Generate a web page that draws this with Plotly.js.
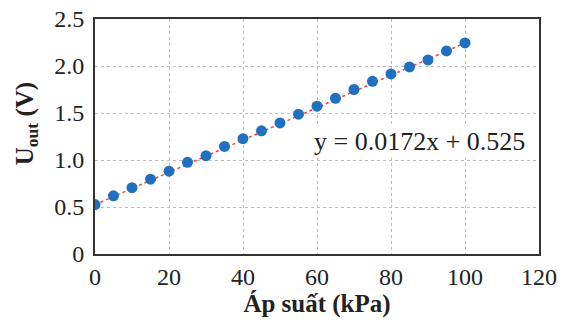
<!DOCTYPE html>
<html>
<head>
<meta charset="utf-8">
<script src="https://cdn.plot.ly/plotly-3.0.1.min.js"></script>
<style>html,body{margin:0;padding:0;background:#fff}#chart{width:569px;height:323px}</style>
</head>
<body>
<div id="chart"></div>
<script>
const pressure = [0,5,10,15,20,25,30,35,40,45,50,55,60,65,70,75,80,85,90,95,100];
const voltage = [0.526,0.619,0.705,0.796,0.881,0.975,1.046,1.144,1.227,1.31,1.394,1.487,1.573,1.657,1.75,1.837,1.916,1.99,2.065,2.16,2.245];
const fitX = [0,100];
const slope = 0.0172, intercept = 0.525;
const fitY = fitX.map(x => slope*x + intercept);
const xTicks = [0,20,40,60,80,100,120];
const yTicks = [0,0.5,1.0,1.5,2.0,2.5];
const yTickText = ['0','0.5','1.0','1.5','2.0','2.5'];
const eqText = 'y = 0.0172x + 0.525';
const xTitle = '<b>Áp suất (kPa)</b>';
const yTitle = '<b>U<sub>out</sub> (V)</b>';

const font = '"Liberation Serif", "Times New Roman", serif';
Plotly.newPlot('chart', [
  {x: fitX, y: fitY, mode: 'lines', line: {color: '#ff3b3b', width: 1.5, dash: 'dot'}, hoverinfo: 'skip'},
  {x: pressure, y: voltage, mode: 'markers', marker: {color: '#1f70c1', size: 11}}
], {
  width: 569, height: 323,
  margin: {l: 95, r: 30, t: 19, b: 69},
  showlegend: false,
  paper_bgcolor: '#fff', plot_bgcolor: '#fff',
  font: {family: font, size: 24, color: '#222'},
  xaxis: {range: [0,120], tickvals: xTicks, showline: true, mirror: true, linecolor: '#333', linewidth: 2,
    showgrid: true, gridcolor: '#bdbdbd', griddash: 'dot', gridwidth: 1, zeroline: false, ticks: '',
    tickfont: {size: 24, family: font}, title: {text: xTitle, font: {size: 25, family: font}, standoff: 5}},
  yaxis: {range: [0,2.5], tickvals: yTicks, ticktext: yTickText, showline: true, mirror: true, linecolor: '#333', linewidth: 2,
    showgrid: true, gridcolor: '#bdbdbd', griddash: 'dot', gridwidth: 1, zeroline: false, ticks: '',
    ticklabelstandoff: 4, tickfont: {size: 24, family: font}},
  annotations: [
    {x: 87.8, y: 1.20, xref: 'x', yref: 'y', text: eqText, showarrow: false,
     font: {size: 26, family: font, color: '#222'}, bgcolor: '#fff'},
    {x: -0.155, y: 0.553, xref: 'paper', yref: 'paper', text: yTitle, textangle: -90, showarrow: false,
     xanchor: 'center', yanchor: 'middle', font: {size: 25, family: font, color: '#222'}}
  ]
}, {staticPlot: true});
</script>
</body>
</html>
